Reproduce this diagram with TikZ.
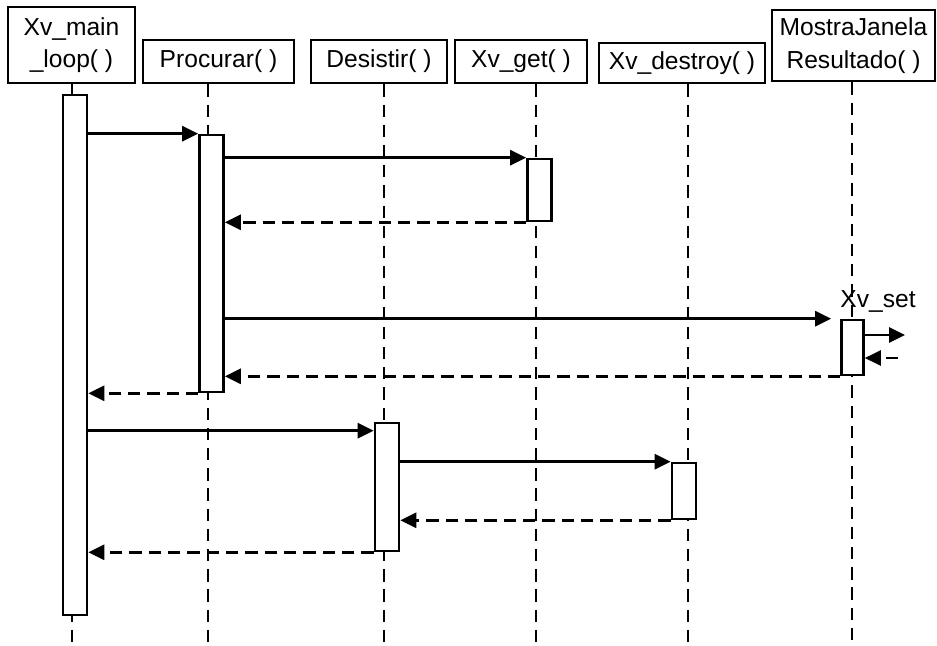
\documentclass[tikz,border=0pt]{standalone}
\usepackage{fontspec}
\setmainfont{Liberation Sans}
\usetikzlibrary{arrows.meta}

\begin{document}
\begin{tikzpicture}[x=0.02cm, y=-0.02cm, line width=1.5pt,
  font=\fontsize{14}{18.4}\selectfont,
  obj/.style={draw, inner sep=0pt, align=center},
  act/.style={draw, fill=white, inner sep=0pt, minimum width=0.48cm},
  life/.style={line width=1.3pt, dash pattern=on 7pt off 4.5pt},
  msg/.style={-{Triangle[length=0.32cm, width=0.3cm]}},
  ret/.style={msg, dash pattern=on 7pt off 4pt}]
  \useasboundingbox (0,0) rectangle (937,646);

  % objects
  \node[obj, minimum width=2.54cm, minimum height=1.52cm] (hmain) at (71.5,45) {Xv\_main\\\_loop( )};
  \node[obj, minimum width=3.02cm, minimum height=0.86cm] (hproc) at (218.5,61.5) {Procurar( )};
  \node[obj, minimum width=2.72cm, minimum height=0.86cm] (hdes) at (379,61.5) {Desistir( )};
  \node[obj, minimum width=2.64cm, minimum height=0.86cm] (hget) at (521,61.5) {Xv\_get( )};
  \node[obj, minimum width=3.32cm, minimum height=0.80cm] (hdestroy) at (682,63) {Xv\_destroy( )};
  \node[obj, minimum width=3.26cm, minimum height=1.42cm] (hmostra) at (853.5,45.5) {MostraJanela\\Resultado( )};

  % lifelines
  \coordinate (lmain) at (72,646);
  \coordinate (lproc) at (208,646);
  \coordinate (ldes) at (384,646);
  \coordinate (lget) at (536,646);
  \coordinate (ldestroy) at (688,646);
  \coordinate (lmostra) at (852,646);
  \draw[life] (lmain |- hmain.south) -- (lmain);
  \draw[life] (lproc |- hproc.south) -- (lproc);
  \draw[life] (ldes |- hdes.south) -- (ldes);
  \draw[life] (lget |- hget.south) -- (lget);
  \draw[life] (ldestroy |- hdestroy.south) -- (ldestroy);
  \draw[life] (lmostra |- hmostra.south) -- (lmostra);

  % activations
  \node[act, minimum height=10.4cm] (am) at (75,355) {};
  \node[act, minimum height=5.14cm] (ap) at (211.5,263.5) {};
  \node[act, minimum height=1.24cm] (ag) at (539.5,190) {};
  \node[act, minimum height=1.1cm, minimum width=0.44cm] (as) at (852.5,347.5) {};
  \node[act, minimum height=2.56cm] (ad) at (387,487) {};
  \node[act, minimum height=1.12cm] (ax) at (684,491) {};
  \node[anchor=base] (lset) at (878,307) {Xv\_set};

  % messages
  \draw[msg] (am.east |- ap.north west) -- (ap.north west);
  \draw[msg] (ap.east |- ag.north west) -- (ag.north west);
  \draw[ret] (ag.south west) -- (ap.east |- ag.south west);
  \draw[msg, shorten >=0.18cm] (ap.east |- as.north west) -- (as.north west);
  \coordinate (sout) at (905,335);
  \coordinate (sin) at (898,358);
  \draw[msg] (as.east |- sout) -- (sout);
  \draw[ret] (sin) -- (as.east |- sin);
  \draw[ret] (as.south west) -- (ap.east |- as.south west);
  \draw[ret] (ap.south west) -- (am.east |- ap.south west);
  \coordinate (cd) at ([yshift=-0.18cm]ad.north west);
  \draw[msg] (am.east |- cd) -- (cd);
  \draw[msg] (ad.east |- ax.north west) -- (ax.north west);
  \draw[ret] (ax.south west) -- (ad.east |- ax.south west);
  \draw[ret] (ad.south west) -- (am.east |- ad.south west);
\end{tikzpicture}
\end{document}
